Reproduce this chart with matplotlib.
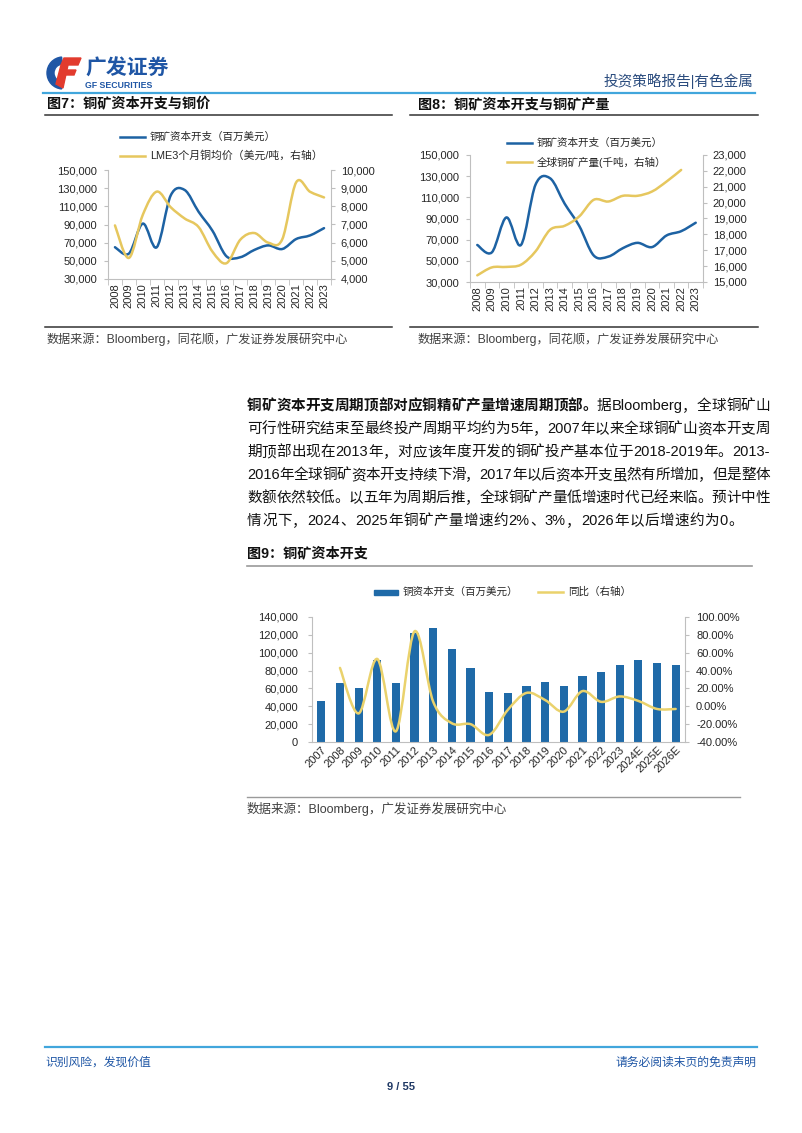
import re
import numpy as np
import matplotlib
matplotlib.use('Agg')
import matplotlib.pyplot as plt
from matplotlib.path import Path
from matplotlib.patches import PathPatch, Rectangle, Polygon, Wedge
from matplotlib.lines import Line2D
from matplotlib.ticker import FuncFormatter, MultipleLocator, FixedLocator

plt.rcParams['font.family'] = ['Liberation Sans', 'Noto Sans CJK SC']
plt.rcParams['axes.unicode_minus'] = False

W, H = 802, 1133

# ---- data ----
years_a = [str(y) for y in range(2008, 2024)]
capex_a = [65000, 58000, 91000, 65000, 122000, 128000, 104000, 83000,
           55000, 54000, 62000, 67000, 63000, 74000, 78000, 86000]
lme_price = [6950, 5160, 7540, 8810, 7950, 7330, 6860, 5500,
             4870, 6170, 6530, 6000, 6180, 9320, 8800, 8490]
copper_output = [15420, 15920, 15950, 16090, 16930, 18290, 18540, 19130,
                 20180, 20070, 20430, 20430, 20700, 21330, 22060, np.nan]

years_b = [str(y) for y in range(2007, 2024)] + ['2024E', '2025E', '2026E']
capex_b = [46000, 66000, 60000, 92000, 66000, 122000, 128000, 104000, 83000,
           56500, 54500, 62500, 67000, 63000, 74000, 78000, 86500,
           92000, 89000, 86500]
yoy_b = [np.nan, 43, -8, 53, -28, 84, 5, -19, -20, -32, -4, 15, 7, -6,
         17, 5, 11, 6, -3, -3]

BLUE = '#1d62a3'
BAR = '#1f6aa8'
GOLD = '#e6c75e'
GOLD2 = '#ead26c'
GRID = '#bfbfbf'
TXT = '#262626'

fig = plt.figure(figsize=(W / 100, H / 100), dpi=100)
bg = fig.add_axes([0, 0, 1, 1])
bg.set_xlim(0, W)
bg.set_ylim(H, 0)
bg.axis('off')


def add_ax(l, t, r, b):
    ax = fig.add_axes([l / W, 1 - b / H, (r - l) / W, (b - t) / H])
    ax.set_facecolor('none')
    return ax


def smooth(ax, xs, ys, **kw):
    pts = [np.array([x, y], float) for x, y in zip(xs, ys) if not np.isnan(y)]
    verts = [pts[0]]
    codes = [Path.MOVETO]
    n = len(pts)
    for i in range(n - 1):
        p0 = pts[i - 1] if i > 0 else pts[i]
        p1, p2 = pts[i], pts[i + 1]
        p3 = pts[i + 2] if i + 2 < n else p2
        verts += [p1 + (p2 - p0) / 6, p2 - (p3 - p1) / 6, p2]
        codes += [Path.CURVE4] * 3
    ax.add_patch(PathPatch(Path(verts, codes), fill=False, capstyle='round',
                           joinstyle='round', **kw))


def hline(x0, x1, y, color, lw):
    bg.add_line(Line2D([x0, x1], [y, y], color=color, lw=lw))


thousands = FuncFormatter(lambda v, p: f'{v:,.0f}')


def style_axes(ax, axr, n):
    ax.set_xlim(-0.5, n - 0.5)
    for s in ['top', 'right']:
        ax.spines[s].set_visible(False)
    for s in ['left', 'bottom']:
        ax.spines[s].set_color(GRID)
        ax.spines[s].set_linewidth(0.8)
    for s in ['top', 'left', 'bottom']:
        axr.spines[s].set_visible(False)
    axr.spines['right'].set_color(GRID)
    axr.spines['right'].set_linewidth(0.8)
    ax.tick_params(axis='y', length=3, color=GRID, labelsize=8, pad=5, labelcolor=TXT)
    axr.tick_params(axis='y', length=3, color=GRID, labelsize=8, pad=4, labelcolor=TXT)
    ax.tick_params(axis='x', which='major', length=0, labelsize=8, pad=3, labelcolor=TXT)
    ax.tick_params(axis='x', which='minor', length=4, color=GRID)
    ax.yaxis.set_major_formatter(thousands)
    axr.yaxis.set_major_formatter(thousands)


# ---- header ----
bg.add_patch(Wedge((63, 73), 16, 95, 265, width=7, color='#1f56a5'))
bg.add_patch(Polygon([(64, 58), (81, 58), (78, 65), (61, 65)], color='#e23b2e'))
bg.add_patch(Polygon([(61, 65), (68, 65), (63, 88), (56, 84)], color='#e23b2e'))
bg.add_patch(Polygon([(64, 70), (76, 70), (74, 75), (63, 75)], color='#e23b2e'))
bg.text(85, 69, '广发证券', fontsize=15, weight='bold', color='#1f56a5', va='center')
bg.text(85, 86, 'GF SECURITIES', fontsize=6.3, weight='bold', color='#1f56a5', va='center')
bg.text(753, 81, '投资策略报告|有色金属', fontsize=10.5, color='#2b4c7e', ha='right', va='center')
hline(43, 755, 93, '#41a6dc', 1.6)

# ---- figure 7 / 8 titles ----
bg.text(47, 104, '图7：铜矿资本开支与铜价', fontsize=10.2, weight='bold', color='#111111', va='center')
bg.text(418, 104, '图8：铜矿资本开支与铜矿产量', fontsize=10.2, weight='bold', color='#111111', va='center')
hline(45, 392, 115, '#333333', 1.1)
hline(410, 758, 115, '#333333', 1.1)

# ---- chart 7 ----
xa = np.arange(len(years_a))
ax7 = add_ax(108, 170, 331, 279)
ax7r = ax7.twinx()
style_axes(ax7, ax7r, len(years_a))
ax7.set_ylim(30000, 150000)
ax7.yaxis.set_major_locator(FixedLocator(np.arange(30000, 150001, 20000)))
ax7r.set_ylim(4000, 10000)
ax7r.yaxis.set_major_locator(MultipleLocator(1000))
ax7.set_xticks(xa)
ax7.set_xticklabels(years_a, rotation=90)
ax7.xaxis.set_minor_locator(FixedLocator(np.arange(-0.5, len(years_a), 1)))
smooth(ax7, xa, capex_a, edgecolor=BLUE, lw=1.8)
smooth(ax7r, xa, lme_price, edgecolor=GOLD, lw=1.8)
bg.add_line(Line2D([120, 145], [137, 137], color=BLUE, lw=1.8))
bg.add_line(Line2D([120, 145], [156, 156], color=GOLD, lw=1.8))
bg.text(150, 137, '铜矿资本开支（百万美元）', fontsize=7.6, color=TXT, va='center')
bg.text(150, 156, 'LME3个月铜均价（美元/吨，右轴）', fontsize=7.8, color=TXT, va='center')

# ---- chart 8 ----
ax8 = add_ax(470, 155, 703, 282)
ax8r = ax8.twinx()
style_axes(ax8, ax8r, len(years_a))
ax8.set_ylim(30000, 150000)
ax8.yaxis.set_major_locator(FixedLocator(np.arange(30000, 150001, 20000)))
ax8r.set_ylim(15000, 23000)
ax8r.yaxis.set_major_locator(MultipleLocator(1000))
ax8.set_xticks(xa)
ax8.set_xticklabels(years_a, rotation=90)
ax8.xaxis.set_minor_locator(FixedLocator(np.arange(-0.5, len(years_a), 1)))
smooth(ax8, xa, capex_a, edgecolor=BLUE, lw=1.8)
smooth(ax8r, xa, copper_output, edgecolor=GOLD, lw=1.8)
bg.add_line(Line2D([507, 532], [143, 143], color=BLUE, lw=1.8))
bg.add_line(Line2D([507, 532], [162, 162], color=GOLD, lw=1.8))
bg.text(537, 143, '铜矿资本开支（百万美元）', fontsize=7.6, color=TXT, va='center')
bg.text(537, 162, '全球铜矿产量(千吨，右轴）', fontsize=7.6, color=TXT, va='center')

# ---- sources ----
hline(45, 392, 327, '#333333', 1.1)
hline(410, 758, 327, '#333333', 1.1)
bg.text(47, 339, '数据来源：Bloomberg，同花顺，广发证券发展研究中心', fontsize=8.7, color='#404040', va='center')
bg.text(418, 339, '数据来源：Bloomberg，同花顺，广发证券发展研究中心', fontsize=8.7, color='#404040', va='center')

# ---- paragraph (justified) ----
para = [
    [('铜矿资本开支周期顶部对应铜精矿产量增速周期顶部。', 'bold'), ('据Bloomberg，全球铜矿山', 'normal')],
    [('可行性研究结束至最终投产周期平均约为5年，2007年以来全球铜矿山资本开支周', 'normal')],
    [('期顶部出现在2013年，对应该年度开发的铜矿投产基本位于2018-2019年。2013-', 'normal')],
    [('2016年全球铜矿资本开支持续下滑，2017年以后资本开支虽然有所增加，但是整体', 'normal')],
    [('数额依然较低。以五年为周期后推，全球铜矿产量低增速时代已经来临。预计中性', 'normal')],
    [('情况下，2024、2025年铜矿产量增速约2%、3%，2026年以后增速约为0。', 'normal')],
]
para_y = [406, 429, 452, 475, 498, 521]
renderer = fig.canvas.get_renderer()
for k, (segs, y) in enumerate(zip(para, para_y)):
    toks = []
    for s, w in segs:
        for t in re.findall(r'[A-Za-z0-9%\-]+|.', s):
            toks.append((t, w))
    texts = [bg.text(0, y, t, fontsize=10.5, weight=w, color='#111111', va='center')
             for t, w in toks]
    widths = [t.get_window_extent(renderer).width for t in texts]
    last = k == len(para) - 1
    gap = 0.4 if last else (770 - 247 - sum(widths)) / (len(toks) - 1)
    x = 247
    for t, wd in zip(texts, widths):
        t.set_x(x)
        x += wd + gap

# ---- figure 9 ----
bg.text(247, 553, '图9：铜矿资本开支', fontsize=10.2, weight='bold', color='#111111', va='center')
hline(247, 752, 566, '#9a9a9a', 1.2)

xb = np.arange(len(years_b))
ax9 = add_ax(312, 617, 685, 742)
ax9r = ax9.twinx()
style_axes(ax9, ax9r, len(years_b))
ax9.tick_params(axis='y', pad=7)
ax9r.tick_params(axis='y', pad=5)
ax9.set_ylim(0, 140000)
ax9.yaxis.set_major_locator(MultipleLocator(20000))
ax9r.set_ylim(-40, 100)
ax9r.yaxis.set_major_locator(MultipleLocator(20))
ax9r.yaxis.set_major_formatter(FuncFormatter(lambda v, p: f'{v:.2f}%'))
ax9.bar(xb, capex_b, width=0.44, color=BAR, zorder=2)
ax9.set_xticks(xb)
ax9.set_xticklabels(years_b, rotation=45, ha='right', rotation_mode='anchor')
ax9.tick_params(axis='x', which='major', pad=2)
smooth(ax9r, xb, yoy_b, edgecolor=GOLD2, lw=1.8)
bg.add_patch(Rectangle((374, 589.5), 24, 5, color=BAR))
bg.text(403, 592, '铜资本开支（百万美元）', fontsize=7.6, color=TXT, va='center')
bg.add_line(Line2D([538, 563], [592, 592], color=GOLD2, lw=1.8))
bg.text(568, 592, '同比（右轴）', fontsize=7.6, color=TXT, va='center')

hline(247, 740, 797, '#9a9a9a', 1.0)
bg.text(247, 809, '数据来源：Bloomberg，广发证券发展研究中心', fontsize=9, color='#404040', va='center')

# ---- footer ----
hline(45, 757, 1047, '#41a6dc', 1.6)
bg.text(45, 1063, '识别风险，发现价值', fontsize=8.5, color='#1f56a5', va='center')
bg.text(757, 1063, '请务必阅读末页的免责声明', fontsize=8.5, color='#1f56a5', ha='right', va='center')
bg.text(401, 1087, '9 / 55', fontsize=8, weight='bold', color='#1f3864', ha='center', va='center')

fig.savefig('out.png', dpi=100)
